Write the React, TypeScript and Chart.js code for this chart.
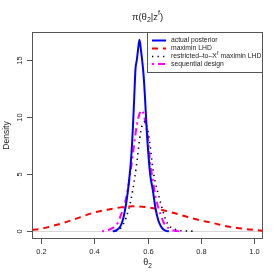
import React, { useEffect, useRef } from "react";
import { Chart, registerables } from "chart.js";

Chart.register(...registerables);

// ---- data ----
const POSTERIOR_X = [0.47, 0.48, 0.49, 0.5, 0.51, 0.52, 0.53, 0.54, 0.545, 0.55, 0.555, 0.56, 0.565, 0.57, 0.575, 0.58, 0.585, 0.59, 0.597, 0.6, 0.61, 0.62, 0.63, 0.64, 0.65, 0.66, 0.67, 0.68];
const POSTERIOR_Y = [0, 0.05, 0.2, 0.5, 1.2, 2.4, 4.2, 6.8, 8.9, 11.5, 14.2, 15.0, 16.0, 16.8, 16.0, 15.0, 13.8, 12.0, 8.9, 7.8, 5.0, 3.6, 2.0, 1.0, 0.45, 0.15, 0.04, 0];

const MAXIMIN_X = [0.17, 0.2, 0.25, 0.3, 0.35, 0.4, 0.45, 0.5, 0.55, 0.6, 0.65, 0.7, 0.75, 0.8, 0.85, 0.9, 0.95, 1.0, 1.03];
const MAXIMIN_Y = [0.12, 0.22, 0.5, 0.85, 1.25, 1.65, 1.9, 2.1, 2.2, 2.1, 1.9, 1.6, 1.25, 0.95, 0.7, 0.42, 0.25, 0.12, 0.05];

const RESTRICTED_X = [0.48, 0.5, 0.52, 0.54, 0.56, 0.57, 0.58, 0.59, 0.6, 0.61, 0.62, 0.63, 0.64, 0.65, 0.66, 0.67, 0.68, 0.7, 0.72, 0.75, 0.78];
const RESTRICTED_Y = [0, 0.3, 1.2, 3.0, 6.0, 8.0, 9.3, 9.6, 9.0, 7.5, 5.5, 4.2, 3.3, 2.4, 1.6, 0.9, 0.5, 0.2, 0.08, 0.03, 0.01];

const SEQUENTIAL_X = [0.43, 0.45, 0.47, 0.49, 0.5, 0.51, 0.52, 0.53, 0.54, 0.55, 0.56, 0.57, 0.578, 0.585, 0.59, 0.6, 0.61, 0.62, 0.63, 0.64, 0.65, 0.66, 0.67, 0.68, 0.69, 0.7, 0.72];
const SEQUENTIAL_Y = [0, 0.1, 0.3, 0.8, 1.4, 2.0, 2.9, 4.2, 5.8, 7.6, 9.3, 10.3, 10.6, 10.3, 9.8, 8.5, 6.0, 4.5, 3.0, 2.1, 1.4, 0.8, 0.45, 0.25, 0.12, 0.06, 0];

const X_TICKS = [0.2, 0.4, 0.6, 0.8, 1.0];
const X_TICK_LABELS = ["0.2", "0.4", "0.6", "0.8", "1.0"];
const Y_TICKS = [0, 5, 10, 15];
const Y_TICK_LABELS = ["0", "5", "10", "15"];

const SERIES_NAMES = ["actual posterior", "maximin LHD", "restricted\u2013to\u2013X", "sequential design"];

const FONT = "'Liberation Sans', Arial, Helvetica, sans-serif";

function pairs(xs: number[], ys: number[]) {
  return xs.map((x, i) => ({ x, y: ys[i] }));
}

const rPlotPlugin = {
  id: "rplot",
  beforeDatasetsDraw(chart: any) {
    const { ctx, chartArea, scales } = chart;
    const y0 = Math.round(scales.y.getPixelForValue(0)) + 0.5;
    ctx.save();
    ctx.strokeStyle = "#d8d8d8";
    ctx.lineWidth = 1;
    ctx.beginPath();
    ctx.moveTo(chartArea.left, y0);
    ctx.lineTo(chartArea.right, y0);
    ctx.stroke();
    ctx.restore();
  },
  afterDraw(chart: any) {
    const { ctx, chartArea, scales } = chart;
    const { left, right, top, bottom } = chartArea;
    ctx.save();
    // box
    ctx.strokeStyle = "#555";
    ctx.lineWidth = 1;
    ctx.strokeRect(left + 0.5, top + 0.5, right - left - 1, bottom - top - 1);

    // x ticks
    ctx.fillStyle = "#222";
    ctx.font = `7.5px ${FONT}`;
    ctx.textAlign = "center";
    ctx.textBaseline = "middle";
    X_TICKS.forEach((v, i) => {
      const px = Math.round(scales.x.getPixelForValue(v)) + 0.5;
      ctx.beginPath();
      ctx.moveTo(px, bottom);
      ctx.lineTo(px, bottom + 5);
      ctx.stroke();
      ctx.fillText(X_TICK_LABELS[i], px, bottom + 13);
    });
    // y ticks
    Y_TICKS.forEach((v, i) => {
      const py = Math.round(scales.y.getPixelForValue(v)) + 0.5;
      ctx.beginPath();
      ctx.moveTo(left - 5, py);
      ctx.lineTo(left, py);
      ctx.stroke();
      ctx.save();
      ctx.translate(left - 12, py);
      ctx.rotate(-Math.PI / 2);
      ctx.fillText(Y_TICK_LABELS[i], 0, 0);
      ctx.restore();
    });

    // y axis title
    ctx.font = `8.5px ${FONT}`;
    ctx.save();
    ctx.translate(7, (top + bottom) / 2);
    ctx.rotate(-Math.PI / 2);
    ctx.fillText("Density", 0, 0);
    ctx.restore();

    // x axis title θ2
    const cx = (left + right) / 2;
    ctx.textAlign = "left";
    ctx.font = `9px ${FONT}`;
    const thW = ctx.measureText("\u03b8").width;
    ctx.font = `6.5px ${FONT}`;
    const subW = ctx.measureText("2").width;
    let sx = cx - (thW + subW) / 2;
    ctx.font = `9px ${FONT}`;
    ctx.fillText("\u03b8", sx, 263);
    ctx.font = `6.5px ${FONT}`;
    ctx.fillText("2", sx + thW, 266);

    // title π(θ2|z^f)
    const parts: [string, number, number][] = [
      ["\u03c0(\u03b8", 9.5, 0],
      ["2", 7, 3],
      ["|z", 9.5, 0],
      ["f", 7, -4],
      [")", 9.5, 0],
    ];
    let tw = 0;
    parts.forEach(([s, f]) => {
      ctx.font = `${f}px ${FONT}`;
      tw += ctx.measureText(s).width;
    });
    let tx = cx - tw / 2;
    parts.forEach(([s, f, dy]) => {
      ctx.font = `${f}px ${FONT}`;
      ctx.fillText(s, tx, 17 + dy);
      tx += ctx.measureText(s).width;
    });

    // legend
    const lx0 = 147.5;
    const ly0 = top + 0.5;
    ctx.strokeStyle = "#555";
    ctx.lineWidth = 1;
    ctx.fillStyle = "#fff";
    ctx.fillRect(lx0, ly0, right - 0.5 - lx0, 40);
    ctx.strokeRect(lx0, ly0, right - 0.5 - lx0, 40);
    const rowsY = [40.5, 48.5, 56.5, 64];
    chart.data.datasets.forEach((ds: any, i: number) => {
      const y = rowsY[i];
      ctx.save();
      ctx.strokeStyle = ds.borderColor;
      ctx.lineWidth = ds.borderWidth;
      ctx.setLineDash(ds.borderDash || []);
      ctx.beginPath();
      ctx.moveTo(152, y);
      ctx.lineTo(166, y);
      ctx.stroke();
      ctx.restore();
      ctx.fillStyle = "#222";
      ctx.font = `6.8px ${FONT}`;
      ctx.textBaseline = "middle";
      ctx.fillText(SERIES_NAMES[i], 171, y);
      if (i === 2) {
        let w = ctx.measureText(SERIES_NAMES[i]).width;
        ctx.font = `5px ${FONT}`;
        ctx.fillText("f", 171 + w + 0.3, y - 3);
        const fw = ctx.measureText("f").width;
        ctx.font = `6.8px ${FONT}`;
        ctx.fillText(" maximin LHD", 171 + w + fw + 0.6, y);
      }
    });
    ctx.restore();
  },
};

export default function App() {
  const ref = useRef<HTMLCanvasElement | null>(null);
  useEffect(() => {
    if (!ref.current) return;
    const chart = new Chart(ref.current, {
      type: "line",
      data: {
        datasets: [
          { label: "actual posterior", data: pairs(POSTERIOR_X, POSTERIOR_Y), borderColor: "#0000ff", borderWidth: 2, pointRadius: 0, fill: false, cubicInterpolationMode: "monotone" },
          { label: "maximin LHD", data: pairs(MAXIMIN_X, MAXIMIN_Y), borderColor: "#ff0000", borderWidth: 2, borderDash: [6, 5], pointRadius: 0, fill: false, cubicInterpolationMode: "monotone" },
          { label: "restricted-to-X^f maximin LHD", data: pairs(RESTRICTED_X, RESTRICTED_Y), borderColor: "#000000", borderWidth: 1.6, borderDash: [1.3, 4.2], pointRadius: 0, fill: false, cubicInterpolationMode: "monotone" },
          { label: "sequential design", data: pairs(SEQUENTIAL_X, SEQUENTIAL_Y), borderColor: "#ff00ff", borderWidth: 2, borderDash: [2, 4, 7, 4], pointRadius: 0, fill: false, cubicInterpolationMode: "monotone" },
        ] as any,
      },
      options: {
        animation: false,
        responsive: false,
        maintainAspectRatio: false,
        layout: { padding: { left: 32, right: 17, top: 32, bottom: 41 } },
        plugins: { legend: { display: false }, tooltip: { enabled: false }, title: { display: false } },
        scales: {
          x: { type: "linear", min: 0.168, max: 1.032, display: false },
          y: { type: "linear", min: -0.672, max: 17.472, display: false },
        },
      },
      plugins: [rPlotPlugin],
    });
    return () => chart.destroy();
  }, []);
  return (
    <div style={{ position: "absolute", left: 0, top: 0, width: 280, height: 280, background: "#fff" }}>
      <canvas ref={ref} width={280} height={280} style={{ width: 280, height: 280, display: "block" }} />
    </div>
  );
}
